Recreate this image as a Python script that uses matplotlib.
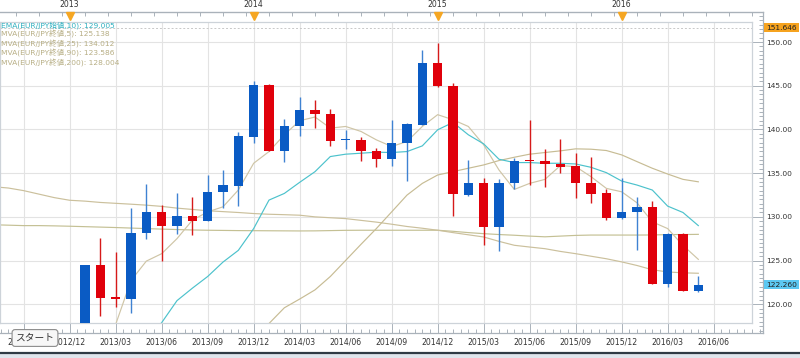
import numpy as np
import matplotlib
matplotlib.use("Agg")
import matplotlib.pyplot as plt
from matplotlib.lines import Line2D
from matplotlib.patches import Rectangle
from matplotlib.ticker import FixedLocator, MultipleLocator, FormatStrFormatter, NullFormatter

plt.rcParams['font.family'] = ['DejaVu Sans', 'Noto Sans CJK JP']

# ---------------- data (monthly EUR/JPY, index 0 = 2013/01) ----------------
opens = [113.5, 124.44, 120.85, 120.55, 128.16, 130.5, 128.97, 130.1, 129.58, 132.8,
         133.56, 139.12, 145.13, 137.55, 140.42, 142.18, 141.76, 138.75, 138.74, 137.59,
         136.59, 138.43, 140.54, 147.62, 145.02, 132.49, 133.83, 128.85, 133.83, 136.48,
         136.44, 136.1, 135.86, 133.91, 132.68, 129.92, 130.5, 131.15, 122.34, 128.08, 121.57]
closes = [124.44, 120.73, 120.6, 128.16, 130.5, 128.97, 130.11, 129.58, 132.8, 133.64,
          139.2, 145.13, 137.55, 140.42, 142.18, 141.76, 138.7, 138.85, 137.55, 136.59,
          138.43, 140.61, 147.62, 144.94, 132.57, 133.83, 128.85, 133.91, 136.44, 136.36,
          136.02, 135.75, 133.83, 132.61, 129.92, 130.57, 131.15, 122.34, 128.08, 121.57, 122.26]
highs = [124.5, 127.62, 125.98, 130.96, 133.75, 131.34, 132.68, 132.3, 134.79, 135.36,
         139.66, 145.59, 145.2, 141.23, 143.72, 143.41, 142.34, 139.96, 139.12, 137.85,
         141.11, 140.73, 149.08, 149.85, 145.33, 136.51, 134.48, 134.33, 136.7, 141.03,
         137.74, 138.93, 137.28, 136.9, 133.14, 134.48, 132.22, 131.84, 128.16, 128.1, 123.29]
lows = [113.4, 118.66, 119.73, 119.04, 127.51, 124.94, 128.0, 127.89, 129.5, 131.07,
        131.23, 138.43, 137.5, 136.32, 139.2, 140.15, 138.05, 137.74, 136.44, 135.75,
        135.82, 134.14, 140.5, 144.87, 130.11, 132.38, 126.82, 126.09, 133.14, 133.7,
        133.45, 134.98, 132.18, 131.61, 129.69, 129.77, 126.17, 122.34, 121.95, 121.57, 121.38]

# moving averages: (start month index, values)
ema10_start = 4
ema10 = [116.0, 117.9, 120.42, 121.84, 123.18, 124.83, 126.17, 128.66, 131.92, 132.68,
         133.95, 135.17, 136.9, 137.17, 137.28, 137.4, 137.36, 137.47, 138.12, 139.96,
         140.8, 139.39, 138.35, 136.59, 136.21, 136.21, 136.13, 136.13, 136.05, 135.67,
         135.06, 134.1, 133.64, 133.07, 131.23, 130.5, 129.0]
mva5_start = 1
mva5 = [113.6, 117.7, 122.72, 124.94, 125.79, 127.51, 129.62, 130.57, 131.15, 133.07,
        136.13, 137.47, 139.39, 141.0, 141.42, 140.15, 140.34, 139.77, 138.81, 138.05,
        138.62, 140.34, 141.69, 141.11, 140.34, 138.24, 135.36, 133.14, 133.83, 134.29,
        135.86, 135.75, 134.6, 133.26, 132.87, 131.61, 129.43, 128.66, 126.74, 125.14]
mva25_start = 11
mva25 = [115.9, 117.8, 119.6, 120.6, 121.65, 123.18, 125.02, 126.86, 128.66, 130.57,
         132.49, 133.83, 134.79, 135.17, 135.56, 135.94, 136.44, 136.82, 137.17, 137.36,
         137.55, 137.78, 137.74, 137.59, 137.09, 136.32, 135.56, 134.9, 134.29, 134.01]
mva90_start = -6
mva90 = [133.45, 133.3, 133.0, 132.6, 132.2, 131.9, 131.8, 131.65, 131.55, 131.45,
         131.34, 131.2, 131.0, 130.85, 130.7, 130.6, 130.5, 130.38, 130.3, 130.25,
         130.19, 130.0, 129.9, 129.8, 129.6, 129.4, 129.16, 128.9, 128.7, 128.47,
         128.2, 127.95, 127.7, 127.2, 126.75, 126.55, 126.36, 126.05, 125.79, 125.5,
         125.21, 124.85, 124.44, 123.95, 123.7, 123.6, 123.55]
mva200_start = -6
mva200 = [129.1, 129.05, 129.0, 129.0, 128.97, 128.93, 128.88, 128.83, 128.78, 128.72,
          128.66, 128.6, 128.55, 128.5, 128.47, 128.45, 128.43, 128.42, 128.41, 128.4,
          128.39, 128.4, 128.43, 128.46, 128.47, 128.47, 128.47, 128.47, 128.47, 128.47,
          128.35, 128.2, 128.08, 127.98, 127.9, 127.8, 127.72, 127.8, 127.88, 127.92,
          127.92, 127.92, 127.92, 127.93, 127.97, 127.98, 128.0]

quarter_labels = ["2012/09", "2012/12", "2013/03", "2013/06", "2013/09", "2013/12",
                  "2014/03", "2014/06", "2014/09", "2014/12", "2015/03", "2015/06",
                  "2015/09", "2015/12", "2016/03", "2016/06"]
quarter_start = -4
year_labels = ["2013", "2014", "2015", "2016"]
year_start = -1

legend_texts = ["EMA(EUR/JPY始値,10): 129.005", "MVA(EUR/JPY終値,5): 125.138",
                "MVA(EUR/JPY終値,25): 134.012", "MVA(EUR/JPY終値,90): 123.586",
                "MVA(EUR/JPY終値,200): 128.004"]
max_mark = 151.646
last_price = 122.260

# ---------------- layout helpers ----------------
W, H = 800, 358
X0, DX = 85.0, 15.333          # px of month 0, px per month
Y120, DY = 304.3, 8.743        # px of 120, px per unit

def xi(px):
    return (px - X0) / DX

def yv(px):
    return 120 + (Y120 - px) / DY

def rect(l, r, t, b):
    return [l / W, 1 - b / H, (r - l) / W, (b - t) / H]

fig = plt.figure(figsize=(W / 100, H / 100), dpi=100)
fig.patch.set_facecolor('white')

# outer axes (ticks & labels)
ax2 = fig.add_axes(rect(0, 763, 12, 333))
ax2.set_facecolor('none')
ax2.set_xlim(xi(0), xi(763))
ax2.set_ylim(yv(333), yv(12))
ax2.spines['left'].set_visible(False)
for s in ['top', 'right', 'bottom']:
    ax2.spines[s].set_color('#aab2ba')
    ax2.spines[s].set_linewidth(0.9)
q_pos = [quarter_start + 3 * k for k in range(len(quarter_labels))]
ax2.xaxis.set_major_locator(FixedLocator(q_pos))
ax2.set_xticklabels(quarter_labels)
ax2.xaxis.set_minor_locator(MultipleLocator(0.5))
ax2.yaxis.tick_right()
ax2.yaxis.set_major_locator(MultipleLocator(5))
ax2.yaxis.set_minor_locator(MultipleLocator(0.5))
ax2.yaxis.set_major_formatter(FormatStrFormatter('%.2f'))
ax2.set_yticks(np.arange(120, 151, 5))
ax2.tick_params(axis='both', which='both', direction='in', color='#aab2ba', width=0.7)
ax2.tick_params(axis='x', which='major', length=10, labelsize=5.6, pad=3, labelcolor='#333333')
ax2.tick_params(axis='x', which='minor', length=3)
ax2.tick_params(axis='y', which='major', length=10, labelsize=5.4, pad=2, labelcolor='#333333')
ax2.tick_params(axis='y', which='minor', length=3)
ax2.tick_params(top=False, left=False, labelleft=False)

sec = ax2.secondary_xaxis('top')
y_pos = [year_start + 12 * k for k in range(len(year_labels))]
sec.set_xticks(y_pos)
sec.set_xticklabels(year_labels)
sec.xaxis.set_minor_locator(MultipleLocator(1.5))
sec.spines['top'].set_color('#aab2ba')
sec.tick_params(which='major', length=0, labelsize=5.6, pad=2.5, labelcolor='#333333')
sec.tick_params(which='minor', direction='in', length=3, color='#aab2ba', width=0.7)
ax2.plot(y_pos, [yv(15.5)] * len(y_pos), ls='none', marker='v', ms=6.2,
         color='#f5a623', clip_on=False, zorder=5)

# inner axes (plot)
ax = fig.add_axes(rect(0, 752, 22, 323))
ax.set_facecolor('white')
ax.set_xlim(xi(0), xi(752))
ax.set_ylim(yv(323), yv(22))
ax.set_xticks(q_pos)
ax.set_yticks(np.arange(120, 151, 5))
ax.grid(True, color='#e3e3e3', lw=0.8)
ax.set_axisbelow(True)
ax.tick_params(length=0, labelbottom=False, labelleft=False)
for s in ax.spines.values():
    s.set_color('#cdd3d9')
    s.set_linewidth(0.9)

ax.axhline(max_mark, color='#c8c8c8', lw=0.7, ls=(0, (2, 2)), zorder=1)

# moving averages
def ma_line(start, vals, color, lw=0.85):
    xs = np.arange(len(vals)) + start
    ax.plot(xs, vals, color=color, lw=lw, zorder=2)

ma_line(mva200_start, mva200, '#c4c094')
ma_line(mva90_start, mva90, '#cbc09c')
ma_line(mva25_start, mva25, '#c7bc94')
ma_line(mva5_start, mva5, '#cfc5a6')
ma_line(ema10_start, ema10, '#4cc2cc')

# candles
o = np.array(opens); c = np.array(closes); h = np.array(highs); l = np.array(lows)
xs = np.arange(len(o))
up = c >= o
body_col = np.where(up, '#0a5bc4', '#e0000b')
wick_col = np.where(up, '#3f82d2', '#d61a1a')
ax.vlines(xs, l, h, colors=wick_col, lw=1.0, zorder=3)
bottom = np.minimum(o, c)
height = np.maximum(np.abs(c - o), 0.14)
ax.bar(xs, height, bottom=bottom, width=0.6, color=body_col, lw=0, zorder=4)

# right-side price labels
ax2.annotate(f"{max_mark:.3f}", xy=(1, max_mark), xycoords=('axes fraction', 'data'),
             xytext=(2.2, 0), textcoords='offset points', va='center', ha='left',
             fontsize=5.4, color='#222222',
             bbox=dict(boxstyle='square,pad=0.25', fc='#f6a31f', ec='none'))
ax2.annotate(f"{last_price:.3f}", xy=(1, last_price), xycoords=('axes fraction', 'data'),
             xytext=(2.2, 0), textcoords='offset points', va='center', ha='left',
             fontsize=5.4, color='#222222',
             bbox=dict(boxstyle='square,pad=0.25', fc='#5cc8f2', ec='none'))

# legend texts
leg_cols = ['#2fb0c0', '#b7ae84', '#b7ae84', '#b7ae84', '#b7ae84']
for k, (t, col) in enumerate(zip(legend_texts, leg_cols)):
    fig.text(1 / W, 1 - (25 + 9.4 * k) / H, t, color=col, fontsize=5.4,
             va='center', ha='left', family=['DejaVu Sans', 'Noto Sans CJK JP'])

# UI overlay elements
fig.text(35 / W, 1 - 338 / H, "スタート", ha='center', va='center', fontsize=7,
         color='#333333', family=['Noto Sans CJK JP', 'DejaVu Sans'],
         bbox=dict(boxstyle='round,pad=0.35,rounding_size=0.3', fc='#f7f7f7', ec='#8c8c8c', lw=0.8),
         zorder=10)
fig.add_artist(Rectangle((0, 0), 1, 5 / H, transform=fig.transFigure,
                         fc='#dfe5ec', ec='none'))
fig.add_artist(Line2D([0, 1], [1 - 353 / H] * 2, transform=fig.transFigure,
                      color='#2f3a44', lw=1.6))

fig.savefig('out.png', dpi=100)
